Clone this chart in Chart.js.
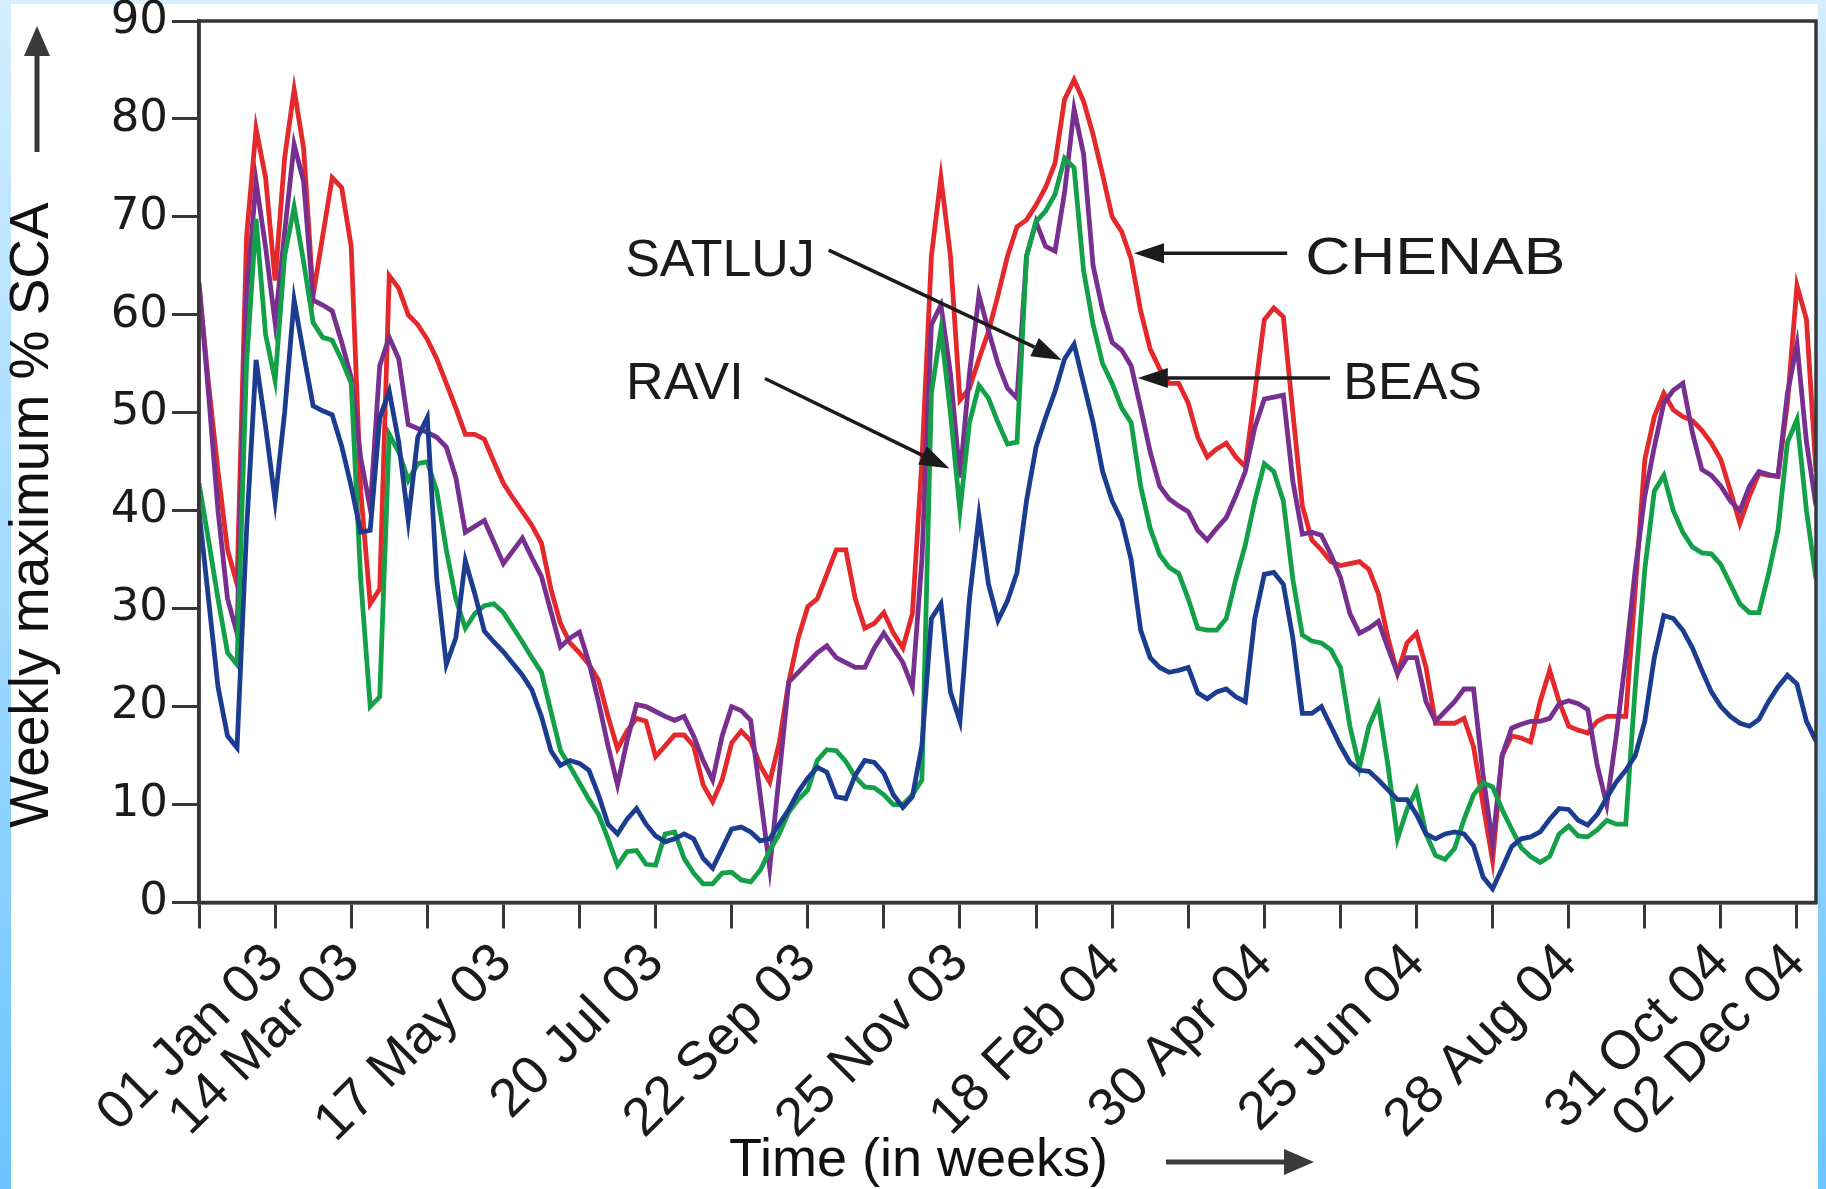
<!DOCTYPE html>
<html>
<head>
<meta charset="utf-8">
<title>Weekly maximum % SCA</title>
<script src="https://cdn.jsdelivr.net/npm/chart.js@4.4.1/dist/chart.umd.min.js"></script>
<style>
  html, body { margin: 0; padding: 0; background: #fff; overflow: hidden; }
  #wrap { position: relative; width: 1826px; height: 1189px; }
  #sca { position: absolute; left: 0; top: 0; z-index: 2; }
  .edge { position: absolute; z-index: 1; background: linear-gradient(to bottom, #d4eeff, #6cc5ff); }
</style>
</head>
<body>
<div id="wrap">
  <div class="edge" style="left:0;top:0;width:11px;height:1189px"></div>
  <div class="edge" style="right:0;top:0;width:8px;height:1189px"></div>
  <div class="edge" style="left:0;top:0;width:1826px;height:4px;background:#d6efff"></div>
  <canvas id="sca" width="1826" height="1189"></canvas>
</div>
<script>
// weekly maximum % snow cover area, one value per composite step (8 steps per tick)
const chenab = [63, 53, 44, 36, 32.5, 68, 79, 74, 63.5, 76,
  83, 77, 62, 68, 74, 73, 67, 42, 30.5, 32,
  64, 62.7, 60, 59, 57.5, 55.5, 53, 50.5, 47.8, 47.8,
  47.3, 45, 42.8, 41.3, 39.9, 38.5, 36.7, 32, 28.5, 26.5,
  25.5, 24.3, 22.7, 19, 15.7, 17.5, 18.8, 18.5, 14.9, 16,
  17.1, 17.1, 16, 12, 10.3, 12.5, 16.3, 17.5, 16.5, 14,
  12.3, 16.3, 22.5, 27, 30.2, 31, 33.5, 36, 36, 31,
  28, 28.5, 29.6, 27.5, 26, 29.5, 45, 66, 74, 66,
  51.3, 52.5, 55.5, 58.3, 62, 66, 69, 69.7, 71.2, 73,
  75.5, 82, 84, 81.8, 78.4, 74.3, 70, 68.5, 65.7, 60.4,
  56.5, 54.5, 53, 53, 51, 47.5, 45.5, 46.3, 46.9, 45.5,
  44.5, 52, 59.5, 60.7, 59.8, 50, 40.5, 37, 36, 34.8,
  34.4, 34.6, 34.8, 34, 31.5, 27, 23.4, 26.5, 27.5, 24,
  18.3, 18.3, 18.3, 18.8, 15.9, 10, 4.3, 15, 17, 16.8,
  16.4, 20.5, 23.7, 20.5, 18, 17.6, 17.3, 18.5, 19, 19,
  19, 32, 45.2, 49.6, 52, 50.3, 49.6, 49.2, 48.2, 46.9,
  45.2, 42, 38.7, 41.5, 43.8, 43.6, 43.5, 51, 63, 59.5,
  44];

const beas = [63.3, 52, 40, 31, 27.5, 62, 73.6, 66.9, 59.2, 68.4,
  77.4, 73.6, 61.5, 61, 60.4, 57.2, 53.6, 45.4, 40.2, 54.8,
  57.7, 55.5, 48.8, 48.4, 48, 47.5, 46.5, 43.4, 37.8, 38.4,
  39, 36.8, 34.6, 35.9, 37.2, 35.2, 33.3, 29.7, 26.1, 27,
  27.6, 24.5, 20.5, 16, 12, 16.5, 20.2, 20, 19.5, 19,
  18.6, 19, 17, 14.5, 12.5, 17, 20, 19.6, 18.6, 11,
  3.5, 13, 22.5, 23.5, 24.5, 25.5, 26.2, 25, 24.5, 24,
  24, 26, 27.5, 26, 24.5, 22, 35, 59, 61, 54,
  43.4, 54, 62, 58.4, 55, 52.5, 51.5, 66, 69.5, 67,
  66.5, 72.5, 81, 76.4, 65, 60.5, 57.2, 56.4, 54.8, 50.5,
  46, 42.5, 41.2, 40.5, 39.9, 38, 37, 38.2, 39.3, 41.5,
  44, 48.5, 51.4, 51.6, 51.8, 43, 37.6, 37.8, 37.5, 35.5,
  33.2, 29.5, 27.5, 28, 28.7, 26, 23.4, 25, 25, 20.5,
  18.5, 19.5, 20.5, 21.8, 21.8, 13, 6, 15, 17.8, 18.2,
  18.5, 18.5, 18.8, 20.3, 20.6, 20.3, 19.7, 14, 10, 17,
  25, 34, 41.5, 46.5, 51, 52.3, 53, 48, 44.2, 43.6,
  42.5, 41, 40, 42.5, 44, 43.7, 43.5, 52, 57, 47,
  40.5];

const satluj = [42.8, 37, 31, 25.5, 24.3, 55, 69.8, 58, 53.3, 66,
  71, 65.4, 59.2, 57.7, 57.4, 55.4, 53, 33, 20, 21,
  47.8, 46, 43.1, 44.8, 45, 42, 36, 31, 28, 29.5,
  30.3, 30.5, 29.6, 28.1, 26.6, 25, 23.5, 19.5, 15.5, 13.9,
  12.2, 10.5, 9, 6.5, 3.8, 5.2, 5.3, 3.9, 3.8, 7,
  7.2, 4.5, 3, 1.9, 1.9, 3, 3.1, 2.3, 2.1, 3.3,
  5.3, 7, 9.2, 10.5, 11.5, 14.5, 15.6, 15.5, 14.4, 12.8,
  11.8, 11.7, 11, 10, 10, 11, 12.5, 52, 58.5, 50,
  40, 49, 52.8, 51.5, 49, 46.8, 47, 66, 69.5, 70.6,
  72.3, 76, 75, 64.5, 59, 55, 53, 50.5, 49, 42.5,
  38.2, 35.5, 34.2, 33.6, 31, 28, 27.8, 27.8, 29, 33,
  36.5, 41, 44.8, 44, 41, 33, 27.3, 26.7, 26.5, 25.8,
  24, 18, 13.8, 18, 20.2, 14, 6.5, 9.5, 11.5, 7,
  4.8, 4.4, 5.5, 8.5, 11, 12.2, 11.8, 9.5, 7.5, 5.6,
  4.7, 4.1, 4.7, 7, 7.8, 6.8, 6.7, 7.4, 8.4, 8,
  8, 22, 34, 42, 43.6, 40, 37.8, 36.3, 35.7, 35.6,
  34.5, 32.5, 30.5, 29.6, 29.6, 33.5, 38, 47, 49.3, 40,
  33];

const ravi = [40, 31, 22, 17, 15.8, 38, 55.4, 48.6, 41, 50,
  61.5, 56, 50.7, 50.2, 49.8, 46.6, 42.5, 37.8, 38, 49.5,
  52.2, 47, 39, 47.5, 49.5, 33, 24.3, 27, 34.9, 31.5,
  27.7, 26.6, 25.6, 24.4, 23.2, 21.7, 19, 15.5, 14, 14.5,
  14.2, 13.5, 11, 8, 7, 8.5, 9.6, 8, 6.8, 6.2,
  6.5, 7, 6.5, 4.5, 3.5, 5.5, 7.5, 7.7, 7.2, 6.3,
  6.5, 8, 9.5, 11.3, 12.7, 13.8, 13.3, 10.8, 10.6, 13,
  14.5, 14.3, 13.2, 11, 9.7, 10.8, 16, 29, 30.5, 21.5,
  18.5, 31, 39.5, 32.5, 28.8, 30.8, 33.7, 41, 46.5, 49.5,
  52.2, 55.5, 57, 53, 49, 44, 41, 39, 35, 27.8,
  25, 24, 23.5, 23.7, 24, 21.4, 20.8, 21.5, 21.8, 21,
  20.5, 29, 33.5, 33.7, 32.5, 27, 19.3, 19.3, 20, 18,
  16, 14.3, 13.5, 13.4, 12.5, 11.5, 10.5, 10.5, 9, 7,
  6.5, 7, 7.2, 7, 5.8, 2.6, 1.4, 3.5, 5.7, 6.5,
  6.7, 7.2, 8.5, 9.6, 9.5, 8.4, 7.9, 9, 10.7, 12.3,
  13.5, 15, 18.5, 25, 29.3, 29, 27.8, 26, 23.7, 21.5,
  20, 19, 18.3, 18, 18.7, 20.5, 22, 23.2, 22.3, 18.5,
  16.5];

// which step each date label sits on
const tickSteps = [8, 16, 32, 48, 64, 80, 96, 112, 128, 144, 160, 168];
const tickDates = ['01 Jan 03', '14 Mar 03', '17 May 03', '20 Jul 03', '22 Sep 03', '25 Nov 03',
  '18 Feb 04', '30 Apr 04', '25 Jun 04', '28 Aug 04', '31 Oct 04', '02 Dec 04'];

// labels with pointer arrows, in data units (step, %)
const riverNotes = [
  { text: 'SATLUJ', at: [44.8, 64.0], from: [66.2, 66.6], to: [90.7, 55.4], stretch: 1 },
  { text: 'RAVI', at: [44.9, 51.4], from: [59.5, 53.5], to: [78.9, 44.3], stretch: 1 },
  { text: 'CHENAB', at: [116.3, 64.2], from: [114.4, 66.3], to: [98.3, 66.3], stretch: 1.2 },
  { text: 'BEAS', at: [120.3, 51.4], from: [118.9, 53.55], to: [98.7, 53.55], stretch: 1 }
];

const plotFont = '"Liberation Sans", Arial, Helvetica, sans-serif';
const numFont = '"DejaVu Sans", Verdana, sans-serif';
const inkColor = '#1b1b1b';
const axisColor = '#363636';

const toPoints = arr => arr.map((v, i) => ({ x: i, y: v }));

function drawArrow(ctx, x1, y1, x2, y2, head, half) {
  const a = Math.atan2(y2 - y1, x2 - x1);
  const bx = x2 - head * Math.cos(a);
  const by = y2 - head * Math.sin(a);
  ctx.beginPath();
  ctx.moveTo(x1, y1);
  ctx.lineTo(bx, by);
  ctx.stroke();
  ctx.beginPath();
  ctx.moveTo(x2, y2);
  ctx.lineTo(bx + half * Math.sin(a), by - half * Math.cos(a));
  ctx.lineTo(bx - half * Math.sin(a), by + half * Math.cos(a));
  ctx.closePath();
  ctx.fill();
}

const framePlugin = {
  id: 'frame',
  beforeDraw(chart) {
    // white plot panel; the page edges stay visible around it
    const { ctx } = chart;
    ctx.save();
    ctx.fillStyle = '#fff';
    ctx.fillRect(11, 4, chart.width - 19, chart.height - 4);
    ctx.restore();
  },
  afterDatasetsDraw(chart) {
    const { ctx, chartArea: a } = chart;
    ctx.save();
    ctx.strokeStyle = axisColor;
    ctx.lineWidth = 3.5;
    ctx.strokeRect(a.left, a.top, a.right - a.left, a.bottom - a.top);
    ctx.restore();
  }
};

const notesPlugin = {
  id: 'riverNotes',
  afterDraw(chart) {
    const { ctx, scales: { x, y } } = chart;
    ctx.save();
    ctx.fillStyle = inkColor;
    ctx.strokeStyle = inkColor;
    ctx.font = `52px ${plotFont}`;
    ctx.textAlign = 'left';
    ctx.textBaseline = 'alphabetic';
    riverNotes.forEach(n => {
      ctx.save();
      ctx.translate(x.getPixelForValue(n.at[0]), y.getPixelForValue(n.at[1]));
      ctx.scale(n.stretch, 1);
      ctx.fillText(n.text, 0, 0);
      ctx.restore();
      ctx.lineWidth = 3.5;
      drawArrow(ctx,
        x.getPixelForValue(n.from[0]), y.getPixelForValue(n.from[1]),
        x.getPixelForValue(n.to[0]), y.getPixelForValue(n.to[1]), 30, 10);
    });

    // axis titles with their arrows
    ctx.fillStyle = '#111';
    ctx.strokeStyle = '#3a3a3a';
    ctx.lineWidth = 5;
    ctx.save();
    ctx.translate(33, 515);
    ctx.rotate(-Math.PI / 2);
    ctx.textAlign = 'center';
    ctx.textBaseline = 'middle';
    ctx.font = `55px ${plotFont}`;
    ctx.fillText('Weekly maximum % SCA', 0, 0);
    ctx.restore();
    ctx.fillStyle = '#3a3a3a';
    drawArrow(ctx, 37, 152, 37, 26, 30, 13);

    ctx.fillStyle = '#111';
    ctx.font = `54px ${plotFont}`;
    ctx.textAlign = 'left';
    ctx.fillText('Time (in weeks)', 729, 1176);
    ctx.fillStyle = '#3a3a3a';
    drawArrow(ctx, 1166, 1162, 1314, 1162, 30, 13);
    ctx.restore();
  }
};

new Chart(document.getElementById('sca'), {
  type: 'line',
  data: {
    datasets: [
      { label: 'CHENAB', data: toPoints(chenab), borderColor: '#e3292c', order: 4 },
      { label: 'BEAS', data: toPoints(beas), borderColor: '#77308f', order: 3 },
      { label: 'SATLUJ', data: toPoints(satluj), borderColor: '#14a049', order: 2 },
      { label: 'RAVI', data: toPoints(ravi), borderColor: '#1c3d8f', order: 1 }
    ]
  },
  options: {
    responsive: false,
    devicePixelRatio: 1,
    animation: false,
    events: [],
    layout: { padding: { left: 0, top: 21, right: 10, bottom: 0 } },
    elements: {
      line: { borderWidth: 4.8, tension: 0, fill: false },
      point: { radius: 0 }
    },
    plugins: { legend: { display: false }, tooltip: { enabled: false } },
    scales: {
      x: {
        type: 'linear',
        min: 0,
        max: 170,
        afterFit: s => { s.height = 286.5; s.paddingLeft = 0; s.paddingRight = 0; },
        border: { display: true, color: axisColor, width: 3.5 },
        grid: { drawOnChartArea: false, drawTicks: true, tickLength: 26, tickWidth: 3, tickColor: axisColor },
        ticks: {
          stepSize: 8,
          includeBounds: false,
          autoSkip: false,
          minRotation: 45,
          maxRotation: 45,
          padding: 3,
          color: inkColor,
          font: { family: plotFont, size: 54 },
          callback: v => {
            const k = tickSteps.indexOf(v);
            return k >= 0 ? tickDates[k] : '';
          }
        }
      },
      y: {
        min: 0,
        max: 90,
        afterFit: s => { s.width = 199; s.paddingTop = 0; s.paddingBottom = 0; },
        border: { display: true, color: axisColor, width: 3.5 },
        grid: { drawOnChartArea: false, drawTicks: true, tickLength: 27, tickWidth: 3, tickColor: axisColor },
        ticks: {
          stepSize: 10,
          padding: 4,
          color: inkColor,
          font: { family: numFont, size: 45 }
        }
      }
    }
  },
  plugins: [framePlugin, notesPlugin]
});
</script>
</body>
</html>
